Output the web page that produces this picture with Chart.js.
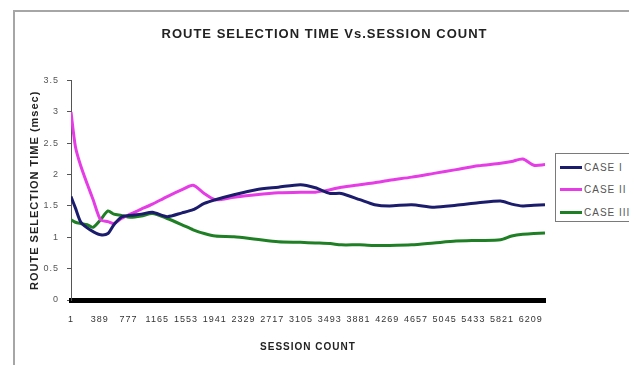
<!DOCTYPE html>
<html>
<head>
<meta charset="utf-8">
<script src="https://cdn.jsdelivr.net/npm/chart.js@4.4.1/dist/chart.umd.min.js"></script>
<style>
  html, body { margin: 0; padding: 0; background: #fff; }
  #wrap { position: relative; width: 629px; height: 365px; overflow: hidden; }
  #frame { position: absolute; left: 13px; top: 10px; width: 700px; height: 420px;
           border-left: 2px solid #a6a6a6; border-top: 2px solid #a6a6a6; }
  canvas { position: absolute; left: 0; top: 0; }
  #legend { position: absolute; left: 555px; top: 153px; width: 90px; height: 67px;
            border: 1px solid #7a7a7a; background: #fff;
            font: 10px 'Liberation Sans', Arial, sans-serif;
            color: #555; letter-spacing: 1px; }
  .item { position: absolute; left: 4px; height: 14px; display: flex; align-items: center; white-space: nowrap; }
  .sw { width: 22px; height: 3px; margin-right: 2px; }
</style>
</head>
<body>
<div id="wrap">
  <div id="frame"></div>
  <canvas id="c" width="629" height="365"></canvas>
  <div id="legend"></div>
</div>
<script>
// Session counts at which the route selection time was sampled
const sessions = [1, 60, 130, 220, 300, 400, 500, 580, 680, 800, 950, 1100, 1300, 1500, 1650, 1800, 1950,
                  2200, 2500, 2800, 3100, 3300, 3500, 3650, 3900, 4100, 4300, 4600, 4900, 5200, 5500,
                  5800, 5950, 6100, 6250, 6400];

// Route selection time (msec) per case
const caseI   = [1.65, 1.47, 1.25, 1.15, 1.09, 1.04, 1.06, 1.20, 1.32, 1.35, 1.37, 1.40, 1.33, 1.39, 1.44, 1.54, 1.60,
                 1.68, 1.76, 1.80, 1.84, 1.79, 1.70, 1.70, 1.60, 1.52, 1.50, 1.52, 1.48, 1.51, 1.55,
                 1.58, 1.53, 1.50, 1.51, 1.52];
const caseII  = [3.00, 2.45, 2.15, 1.85, 1.60, 1.28, 1.25, 1.22, 1.30, 1.37, 1.45, 1.53, 1.65, 1.76, 1.83, 1.70, 1.60,
                 1.64, 1.68, 1.71, 1.72, 1.72, 1.76, 1.80, 1.84, 1.87, 1.91, 1.96, 2.02, 2.08, 2.14,
                 2.18, 2.21, 2.25, 2.15, 2.16];
const caseIII = [1.28, 1.24, 1.22, 1.20, 1.16, 1.28, 1.42, 1.37, 1.35, 1.32, 1.34, 1.38, 1.30, 1.20, 1.12, 1.06, 1.02,
                 1.01, 0.97, 0.93, 0.92, 0.91, 0.90, 0.88, 0.88, 0.87, 0.87, 0.88, 0.91, 0.94, 0.95,
                 0.96, 1.02, 1.05, 1.06, 1.07];

// Labelled session counts along the horizontal axis
const xTickValues = [1, 389, 777, 1165, 1553, 1941, 2329, 2717, 3105, 3493, 3881, 4269, 4657, 5045, 5433, 5821, 6209];

const seriesNames  = ['CASE I', 'CASE II', 'CASE III'];
const seriesColors = ['#1c1c6c', '#e63ce6', '#1f7f24'];
const seriesValues = [caseI, caseII, caseIII];

const FONT = "'Liberation Sans', Arial, sans-serif";

const datasets = seriesNames.map((name, i) => ({
  label: name,
  data: sessions.map((s, j) => ({ x: s, y: seriesValues[i][j] })),
  borderColor: seriesColors[i],
  backgroundColor: seriesColors[i],
  borderWidth: 3,
  pointRadius: 0,
  tension: 0.25,
  fill: false
}));

// Slightly tracked lettering, as in the printed chart
const spacingPlugin = {
  id: 'spacing',
  beforeDraw(chart) { chart.ctx.letterSpacing = '1px'; },
  afterDraw(chart) { chart.ctx.letterSpacing = '0px'; }
};

new Chart(document.getElementById('c').getContext('2d'), {
  type: 'line',
  data: { datasets },
  plugins: [spacingPlugin],
  options: {
    responsive: false,
    animation: false,
    devicePixelRatio: 1,
    layout: { padding: { left: 20, right: 0, top: 0, bottom: 0 } },
    plugins: {
      legend: { display: false },
      tooltip: { enabled: false },
      title: {
        display: true,
        text: 'ROUTE SELECTION TIME Vs.SESSION COUNT',
        color: '#222',
        font: { family: FONT, size: 13, weight: 'bold' },
        padding: { top: 27, bottom: 38 }
      }
    },
    scales: {
      x: {
        type: 'linear',
        min: 1,
        max: 6400,
        afterBuildTicks: (scale) => { scale.ticks = xTickValues.map(v => ({ value: v })); },
        afterFit: (scale) => { scale.height = 65; },
        ticks: {
          autoSkip: false, maxRotation: 0, padding: 14, color: '#333',
          font: { family: FONT, size: 9 },
          callback: (v) => String(v)
        },
        grid: { display: false, drawTicks: false },
        border: { display: true, color: '#000', width: 5 },
        title: {
          display: true, text: 'SESSION COUNT', color: '#222',
          font: { family: FONT, size: 10, weight: 'bold' },
          padding: { top: 0, bottom: 12 }
        }
      },
      y: {
        min: 0,
        max: 3.5,
        afterFit: (scale) => { scale.width = 51; },
        ticks: {
          stepSize: 0.5, padding: 8, color: '#555',
          font: { family: FONT, size: 9 },
          callback: (v) => String(v)
        },
        grid: { drawOnChartArea: false, drawTicks: true, tickLength: 4, color: '#555' },
        border: { color: '#555', width: 1 },
        title: {
          display: true, text: 'ROUTE SELECTION TIME (msec)', color: '#222',
          font: { family: FONT, size: 11, weight: 'bold' },
          padding: { top: 8, bottom: 0 }
        }
      },
      // Empty strip on the right that keeps room for the legend box
      legendSpace: {
        type: 'linear',
        position: 'right',
        afterFit: (scale) => { scale.width = 84; },
        ticks: { display: false },
        grid: { display: false, drawTicks: false },
        border: { display: false }
      }
    }
  }
});

// Legend box beside the plot
const legend = document.getElementById('legend');
seriesNames.forEach((name, i) => {
  const item = document.createElement('div');
  item.className = 'item';
  item.style.top = (6 + i * 22.5) + 'px';
  const sw = document.createElement('span');
  sw.className = 'sw';
  sw.style.background = seriesColors[i];
  const txt = document.createElement('span');
  txt.textContent = name;
  item.appendChild(sw);
  item.appendChild(txt);
  legend.appendChild(item);
});
</script>
</body>
</html>
